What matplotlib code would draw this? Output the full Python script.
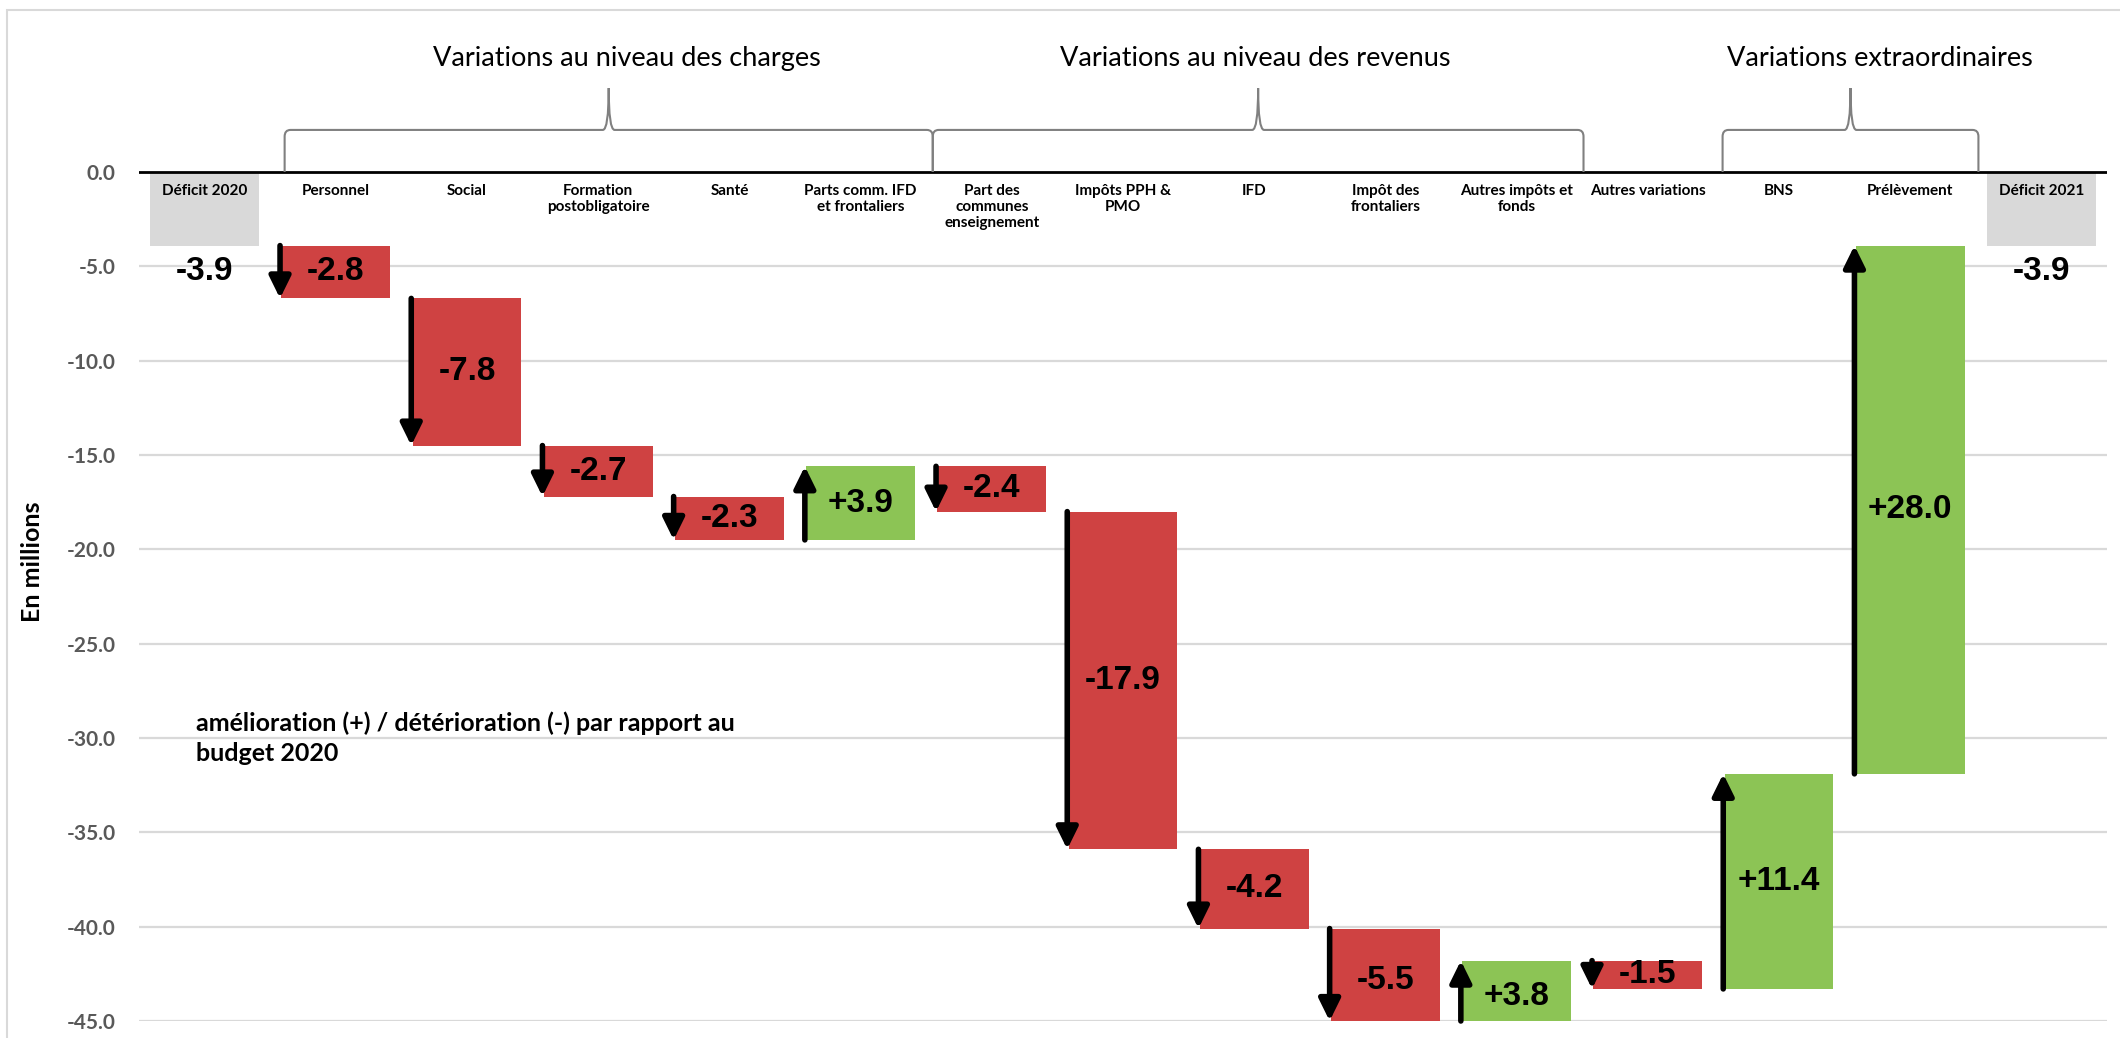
import matplotlib
matplotlib.use("Agg")
import matplotlib.pyplot as plt
from matplotlib.path import Path
from matplotlib.patches import PathPatch, Rectangle

# ---------------- data ----------------
categories = ["Déficit 2020", "Personnel", "Social", "Formation\npostobligatoire", "Santé",
              "Parts comm. IFD\net frontaliers", "Part des\ncommunes\nenseignement",
              "Impôts PPH &\nPMO", "IFD", "Impôt des\nfrontaliers", "Autres impôts et\nfonds",
              "Autres variations", "BNS", "Prélèvement", "Déficit 2021"]
values = [-3.9, -2.8, -7.8, -2.7, -2.3, 3.9, -2.4, -17.9, -4.2, -5.5, 3.8, -1.5, 11.4, 28.0, -3.9]
is_total = [True] + [False] * 13 + [True]
group_titles = ["Variations au niveau des charges", "Variations au niveau des revenus",
                "Variations extraordinaires"]
y_ticks = [0, -5, -10, -15, -20, -25, -30, -35, -40, -45]
note = "amélioration (+) / détérioration (-) par rapport au\nbudget 2020"
y_label = "En millions"

# ---------------- style ----------------
RED = "#CF4242"
GREEN = "#8CC455"
GREY = "#D9D9D9"
CAL = ["Lato", "DejaVu Sans"]
ARIAL = ["Liberation Sans", "DejaVu Sans"]

W, H = 2120, 1038
fig = plt.figure(figsize=(W / 100, H / 100), dpi=100)
ax_left, ax_right, ax_bottom_px, ax_top_px = 139, 2107, 1021, 10
ax = fig.add_axes([ax_left / W, (H - ax_bottom_px) / H,
                   (ax_right - ax_left) / W, (ax_bottom_px - ax_top_px) / H])
ymin = -45
px_per_unit = (1021 - 172) / 45.0
ymax = (172 - ax_top_px) / px_per_unit
ax.set_ylim(ymin, ymax)
n = len(categories)
ax.set_xlim(-0.5, n - 0.5)

# chart border
fig.patches.append(Rectangle((7 / W, -0.1), 1.2, 1 - 10 / H + 0.1, transform=fig.transFigure,
                             fill=False, edgecolor="#D9D9D9", lw=1.5, zorder=0))

# gridlines
for t in y_ticks:
    if t == 0:
        continue
    ax.axhline(t, color="#D9D9D9", lw=1.6, zorder=0)
ax.axhline(0, color="black", lw=2.0, zorder=3)

# waterfall
bw = 0.83
cum = 0.0
for i, (v, tot) in enumerate(zip(values, is_total)):
    if tot:
        start, end = 0.0, v
        color = GREY
    else:
        start, end = cum, cum + v
        color = GREEN if v > 0 else RED
    ax.bar(i, end - start, bottom=start, width=bw, color=color, zorder=2, linewidth=0)
    ax.text(i, -0.65, categories[i], ha="center", va="top", fontsize=11,
            fontweight="bold", family=CAL, linespacing=1.15, zorder=4)
    if tot:
        ax.annotate(f"{v:.1f}", xy=(i, end), xytext=(0, -19), textcoords="offset points",
                    ha="center", va="center", fontsize=24, fontweight="bold",
                    family=ARIAL, color="black", zorder=5)
    else:
        label = f"{v:+.1f}"
        ax.text(i, (start + end) / 2, label, ha="center", va="center", fontsize=24,
                fontweight="bold", family=ARIAL, color="black", zorder=5)
        xa = i - bw / 2 - 0.01
        s = max(start, ymin)
        e = max(end, ymin)
        ax.annotate("", xy=(xa, e), xytext=(xa, s),
                    arrowprops=dict(arrowstyle="-|>,head_length=0.65,head_width=0.32",
                                    lw=4, color="black", shrinkA=0, shrinkB=0,
                                    mutation_scale=20),
                    zorder=6, annotation_clip=False)
    cum = end

# braces
def brace(x0, x1, yl=2.23, yp=4.45, dx=0.045, dy=0.35):
    xm = (x0 + x1) / 2
    verts = [(x0, 0), (x0, yl - dy), (x0, yl), (x0 + dx, yl), (xm - dx, yl),
             (xm, yl), (xm, yp), (xm, yl), (xm + dx, yl), (x1 - dx, yl),
             (x1, yl), (x1, yl - dy), (x1, 0)]
    codes = [Path.MOVETO, Path.LINETO, Path.CURVE3, Path.CURVE3, Path.LINETO,
             Path.CURVE3, Path.CURVE3, Path.CURVE3, Path.CURVE3, Path.LINETO,
             Path.CURVE3, Path.CURVE3, Path.LINETO]
    ax.add_patch(PathPatch(Path(verts, codes), fill=False, edgecolor="#808080",
                           lw=1.5, zorder=3))

spans = [(0.61, 5.55), (5.55, 10.51), (11.57, 13.52)]
title_x = [3.22, 8.01, 12.77]
for (a, b), t, tx in zip(spans, group_titles, title_x):
    brace(a, b)
    ax.text(tx, 6.0, t, ha="center", va="center", fontsize=19.5, family=CAL, color="black")

# note text
ax.text(-0.066, -28.6, note, ha="left", va="top", fontsize=18, fontweight="bold",
        family=CAL, linespacing=1.35, transform=ax.transData)

# axes styling
ax.set_yticks(y_ticks)
ax.set_yticklabels([f"{t:.1f}" for t in y_ticks])
for lab in ax.get_yticklabels():
    lab.set_fontfamily(CAL)
    lab.set_fontweight("bold")
    lab.set_fontsize(15)
    lab.set_color("#595959")
ax.tick_params(axis="y", length=0, pad=17)
ax.set_xticks([])
for sp in ax.spines.values():
    sp.set_visible(False)

fig.text(33 / W, 1 - 562 / H, y_label, rotation=90, ha="center", va="center",
         fontsize=18, fontweight="bold", family=CAL)

fig.savefig("out.png", dpi=100)
